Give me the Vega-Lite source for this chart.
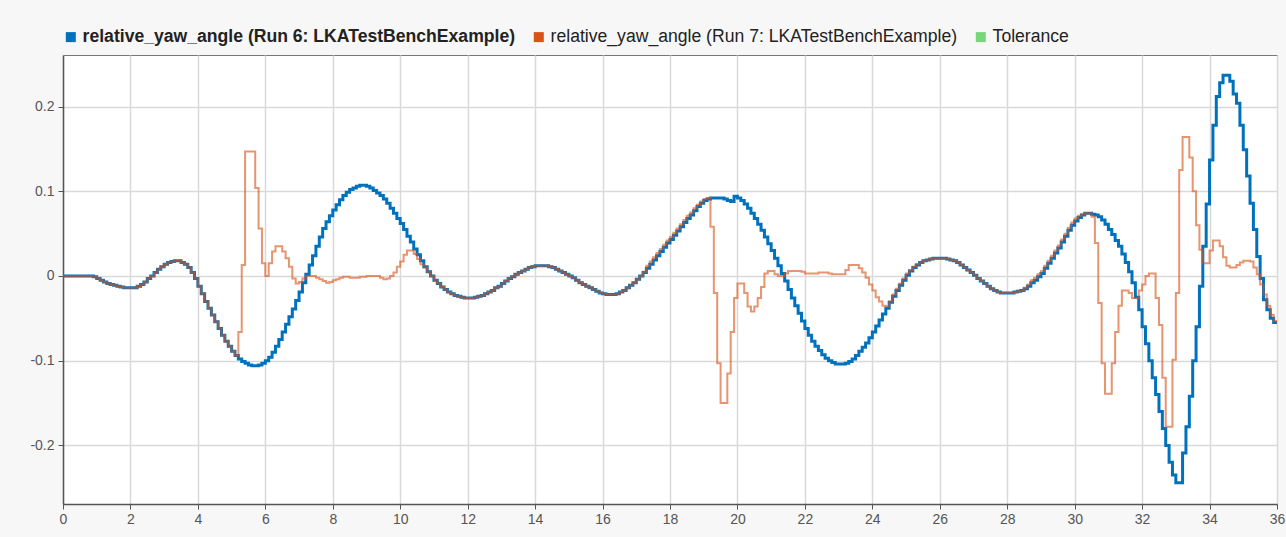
{
"$schema": "https://vega.github.io/schema/vega-lite/v6.json",
"width": 1214, "height": 449,
"autosize": {"type": "none"},
"padding": {"left": 63, "top": 55, "right": 9, "bottom": 33},
"background": "#f7f7f7",
"config": {
  "font": "Liberation Sans",
  "view": {"fill": "white", "stroke": "#777", "strokeWidth": 1},
  "axis": {"gridColor": "#d9d9d9", "gridWidth": 1.5, "domainColor": "#555", "domainWidth": 1.5, "tickColor": "#555", "tickSize": 5, "labelColor": "#555", "labelFontSize": 14, "labelFont": "Liberation Sans", "labelFlush": false, "title": null}
},
"data": {"values": [
{"t":0,"a":0,"b":0},{"t":0.1,"a":0,"b":0},{"t":0.2,"a":0,"b":0},{"t":0.3,"a":0,"b":0},{"t":0.4,"a":0,"b":0},{"t":0.5,"a":0,"b":0},{"t":0.6,"a":0,"b":0},{"t":0.7,"a":0,"b":0},{"t":0.8,"a":0,"b":0},
{"t":0.9,"a":-0.001,"b":-0.001},{"t":1.0,"a":-0.003,"b":-0.003},{"t":1.1,"a":-0.005,"b":-0.005},{"t":1.2,"a":-0.007,"b":-0.007},{"t":1.3,"a":-0.009,"b":-0.009},{"t":1.4,"a":-0.010,"b":-0.010},{"t":1.5,"a":-0.011,"b":-0.011},{"t":1.6,"a":-0.012,"b":-0.012},{"t":1.7,"a":-0.013,"b":-0.013},{"t":1.8,"a":-0.014,"b":-0.014},{"t":1.9,"a":-0.014,"b":-0.014},
{"t":2.0,"a":-0.014,"b":-0.014},{"t":2.1,"a":-0.014,"b":-0.014},{"t":2.2,"a":-0.012,"b":-0.012},{"t":2.3,"a":-0.010,"b":-0.010},{"t":2.4,"a":-0.007,"b":-0.007},{"t":2.5,"a":-0.003,"b":-0.003},{"t":2.6,"a":0,"b":0},{"t":2.7,"a":0.004,"b":0.004},{"t":2.8,"a":0.008,"b":0.008},{"t":2.9,"a":0.011,"b":0.011},
{"t":3.0,"a":0.014,"b":0.014},{"t":3.1,"a":0.016,"b":0.016},{"t":3.2,"a":0.017,"b":0.017},{"t":3.3,"a":0.018,"b":0.018},{"t":3.4,"a":0.018,"b":0.018},{"t":3.5,"a":0.016,"b":0.016},{"t":3.6,"a":0.014,"b":0.014},{"t":3.7,"a":0.010,"b":0.010},{"t":3.8,"a":0.004,"b":0.004},{"t":3.9,"a":-0.003,"b":-0.003},
{"t":4.0,"a":-0.012,"b":-0.012},{"t":4.1,"a":-0.021,"b":-0.021},{"t":4.2,"a":-0.030,"b":-0.030},{"t":4.3,"a":-0.038,"b":-0.038},{"t":4.4,"a":-0.046,"b":-0.046},{"t":4.5,"a":-0.054,"b":-0.054},{"t":4.6,"a":-0.062,"b":-0.062},{"t":4.7,"a":-0.070,"b":-0.070},{"t":4.8,"a":-0.077,"b":-0.077},{"t":4.9,"a":-0.083,"b":-0.083},
{"t":5.0,"a":-0.089,"b":-0.089},{"t":5.1,"a":-0.094,"b":-0.094},{"t":5.2,"a":-0.098,"b":-0.066},{"t":5.3,"a":-0.101,"b":0.013},{"t":5.4,"a":-0.103,"b":0.147},{"t":5.5,"a":-0.105,"b":0.147},{"t":5.6,"a":-0.106,"b":0.147},{"t":5.7,"a":-0.106,"b":0.104},{"t":5.8,"a":-0.105,"b":0.056},{"t":5.9,"a":-0.103,"b":0.015},
{"t":6.0,"a":-0.100,"b":0},{"t":6.1,"a":-0.096,"b":0.015},{"t":6.2,"a":-0.090,"b":0.029},{"t":6.3,"a":-0.083,"b":0.035},{"t":6.4,"a":-0.075,"b":0.035},{"t":6.5,"a":-0.066,"b":0.029},{"t":6.6,"a":-0.057,"b":0.021},{"t":6.7,"a":-0.048,"b":0.011},{"t":6.8,"a":-0.039,"b":-0.003},{"t":6.9,"a":-0.029,"b":-0.009},
{"t":7.0,"a":-0.019,"b":-0.007},{"t":7.1,"a":-0.008,"b":-0.003},{"t":7.2,"a":0.002,"b":0},{"t":7.3,"a":0.013,"b":0},{"t":7.4,"a":0.024,"b":0},{"t":7.5,"a":0.035,"b":-0.002},{"t":7.6,"a":0.046,"b":-0.004},{"t":7.7,"a":0.056,"b":-0.006},{"t":7.8,"a":0.064,"b":-0.008},{"t":7.9,"a":0.071,"b":-0.007},
{"t":8.0,"a":0.078,"b":-0.005},{"t":8.1,"a":0.084,"b":-0.004},{"t":8.2,"a":0.090,"b":-0.002},{"t":8.3,"a":0.095,"b":-0.001},{"t":8.4,"a":0.099,"b":-0.001},{"t":8.5,"a":0.102,"b":-0.002},{"t":8.6,"a":0.104,"b":-0.002},{"t":8.7,"a":0.106,"b":-0.002},{"t":8.8,"a":0.107,"b":-0.001},{"t":8.9,"a":0.107,"b":-0.001},
{"t":9.0,"a":0.106,"b":0},{"t":9.1,"a":0.104,"b":0},{"t":9.2,"a":0.101,"b":0},{"t":9.3,"a":0.098,"b":0},{"t":9.4,"a":0.095,"b":-0.002},{"t":9.5,"a":0.091,"b":-0.004},{"t":9.6,"a":0.086,"b":-0.003},{"t":9.7,"a":0.080,"b":0},{"t":9.8,"a":0.074,"b":0.004},{"t":9.9,"a":0.068,"b":0.011},
{"t":10.0,"a":0.062,"b":0.017},{"t":10.1,"a":0.055,"b":0.025},{"t":10.2,"a":0.047,"b":0.030},{"t":10.3,"a":0.040,"b":0.030},{"t":10.4,"a":0.032,"b":0.026},{"t":10.5,"a":0.025,"b":0.020},{"t":10.6,"a":0.018,"b":0.014},{"t":10.7,"a":0.011,"b":0.010},{"t":10.8,"a":0.005,"b":0.005},{"t":10.9,"a":0.000,"b":0.000},
{"t":11.0,"a":-0.005,"b":-0.005},{"t":11.1,"a":-0.009,"b":-0.009},{"t":11.2,"a":-0.013,"b":-0.013},{"t":11.3,"a":-0.016,"b":-0.016},{"t":11.4,"a":-0.019,"b":-0.019},{"t":11.5,"a":-0.021,"b":-0.021},{"t":11.6,"a":-0.023,"b":-0.023},{"t":11.7,"a":-0.024,"b":-0.024},{"t":11.8,"a":-0.025,"b":-0.025},{"t":11.9,"a":-0.026,"b":-0.026},
{"t":12.0,"a":-0.026,"b":-0.026},{"t":12.1,"a":-0.026,"b":-0.026},{"t":12.2,"a":-0.025,"b":-0.025},{"t":12.3,"a":-0.024,"b":-0.024},{"t":12.4,"a":-0.023,"b":-0.023},{"t":12.5,"a":-0.021,"b":-0.021},{"t":12.6,"a":-0.019,"b":-0.019},{"t":12.7,"a":-0.017,"b":-0.017},{"t":12.8,"a":-0.014,"b":-0.014},{"t":12.9,"a":-0.012,"b":-0.012},
{"t":13.0,"a":-0.009,"b":-0.009},{"t":13.1,"a":-0.006,"b":-0.006},{"t":13.2,"a":-0.003,"b":-0.003},{"t":13.3,"a":-0.001,"b":-0.001},{"t":13.4,"a":0.002,"b":0.002},{"t":13.5,"a":0.004,"b":0.004},{"t":13.6,"a":0.006,"b":0.006},{"t":13.7,"a":0.008,"b":0.008},{"t":13.8,"a":0.010,"b":0.010},{"t":13.9,"a":0.011,"b":0.011},
{"t":14.0,"a":0.012,"b":0.012},{"t":14.1,"a":0.012,"b":0.012},{"t":14.2,"a":0.012,"b":0.012},{"t":14.3,"a":0.012,"b":0.012},{"t":14.4,"a":0.011,"b":0.011},{"t":14.5,"a":0.010,"b":0.010},{"t":14.6,"a":0.008,"b":0.008},{"t":14.7,"a":0.006,"b":0.006},{"t":14.8,"a":0.004,"b":0.004},{"t":14.9,"a":0.002,"b":0.002},
{"t":15.0,"a":0.000,"b":0.000},{"t":15.1,"a":-0.002,"b":-0.002},{"t":15.2,"a":-0.005,"b":-0.005},{"t":15.3,"a":-0.008,"b":-0.008},{"t":15.4,"a":-0.010,"b":-0.010},{"t":15.5,"a":-0.012,"b":-0.012},{"t":15.6,"a":-0.014,"b":-0.014},{"t":15.7,"a":-0.016,"b":-0.016},{"t":15.8,"a":-0.018,"b":-0.018},{"t":15.9,"a":-0.020,"b":-0.020},
{"t":16.0,"a":-0.021,"b":-0.021},{"t":16.1,"a":-0.022,"b":-0.022},{"t":16.2,"a":-0.022,"b":-0.022},{"t":16.3,"a":-0.022,"b":-0.022},{"t":16.4,"a":-0.021,"b":-0.021},{"t":16.5,"a":-0.019,"b":-0.019},{"t":16.6,"a":-0.017,"b":-0.017},{"t":16.7,"a":-0.014,"b":-0.014},{"t":16.8,"a":-0.011,"b":-0.011},{"t":16.9,"a":-0.008,"b":-0.008},
{"t":17.0,"a":-0.004,"b":-0.004},{"t":17.1,"a":0.000,"b":0.000},{"t":17.2,"a":0.004,"b":0.005},{"t":17.3,"a":0.009,"b":0.012},{"t":17.4,"a":0.014,"b":0.017},{"t":17.5,"a":0.019,"b":0.022},{"t":17.6,"a":0.024,"b":0.027},{"t":17.7,"a":0.029,"b":0.032},{"t":17.8,"a":0.034,"b":0.037},{"t":17.9,"a":0.039,"b":0.042},
{"t":18.0,"a":0.043,"b":0.046},{"t":18.1,"a":0.048,"b":0.051},{"t":18.2,"a":0.053,"b":0.056},{"t":18.3,"a":0.058,"b":0.061},{"t":18.4,"a":0.063,"b":0.066},{"t":18.5,"a":0.068,"b":0.071},{"t":18.6,"a":0.072,"b":0.075},{"t":18.7,"a":0.077,"b":0.080},{"t":18.8,"a":0.082,"b":0.084},{"t":18.9,"a":0.086,"b":0.088},
{"t":19.0,"a":0.089,"b":0.091},{"t":19.1,"a":0.091,"b":0.092},{"t":19.2,"a":0.092,"b":0.058},{"t":19.3,"a":0.092,"b":-0.020},{"t":19.4,"a":0.092,"b":-0.103},{"t":19.5,"a":0.092,"b":-0.150},{"t":19.6,"a":0.091,"b":-0.150},{"t":19.7,"a":0.089,"b":-0.115},{"t":19.8,"a":0.088,"b":-0.066},{"t":19.9,"a":0.094,"b":-0.026},
{"t":20.0,"a":0.092,"b":-0.009},{"t":20.1,"a":0.089,"b":-0.009},{"t":20.2,"a":0.085,"b":-0.020},{"t":20.3,"a":0.080,"b":-0.036},{"t":20.4,"a":0.074,"b":-0.042},{"t":20.5,"a":0.068,"b":-0.036},{"t":20.6,"a":0.061,"b":-0.026},{"t":20.7,"a":0.054,"b":-0.013},{"t":20.8,"a":0.046,"b":0.003},{"t":20.9,"a":0.038,"b":0.006},
{"t":21.0,"a":0.030,"b":0.006},{"t":21.1,"a":0.021,"b":0.002},{"t":21.2,"a":0.012,"b":0},{"t":21.3,"a":0.003,"b":0},{"t":21.4,"a":-0.006,"b":0.003},{"t":21.5,"a":-0.016,"b":0.006},{"t":21.6,"a":-0.026,"b":0.006},{"t":21.7,"a":-0.035,"b":0.006},{"t":21.8,"a":-0.044,"b":0.006},{"t":21.9,"a":-0.053,"b":0.005},
{"t":22.0,"a":-0.062,"b":0.003},{"t":22.1,"a":-0.070,"b":0.003},{"t":22.2,"a":-0.077,"b":0.003},{"t":22.3,"a":-0.083,"b":0.003},{"t":22.4,"a":-0.088,"b":0.004},{"t":22.5,"a":-0.093,"b":0.004},{"t":22.6,"a":-0.097,"b":0.004},{"t":22.7,"a":-0.100,"b":0.003},{"t":22.8,"a":-0.102,"b":0.002},{"t":22.9,"a":-0.104,"b":0.002},
{"t":23.0,"a":-0.104,"b":0.002},{"t":23.1,"a":-0.104,"b":0.002},{"t":23.2,"a":-0.103,"b":0.007},{"t":23.3,"a":-0.101,"b":0.013},{"t":23.4,"a":-0.098,"b":0.013},{"t":23.5,"a":-0.094,"b":0.013},{"t":23.6,"a":-0.089,"b":0.009},{"t":23.7,"a":-0.084,"b":0.004},{"t":23.8,"a":-0.079,"b":-0.002},{"t":23.9,"a":-0.073,"b":-0.010},
{"t":24.0,"a":-0.066,"b":-0.017},{"t":24.1,"a":-0.059,"b":-0.025},{"t":24.2,"a":-0.052,"b":-0.030},{"t":24.3,"a":-0.045,"b":-0.035},{"t":24.4,"a":-0.038,"b":-0.036},{"t":24.5,"a":-0.031,"b":-0.030},{"t":24.6,"a":-0.024,"b":-0.022},{"t":24.7,"a":-0.017,"b":-0.015},{"t":24.8,"a":-0.011,"b":-0.009},{"t":24.9,"a":-0.005,"b":-0.003},
{"t":25.0,"a":0.001,"b":0.003},{"t":25.1,"a":0.006,"b":0.007},{"t":25.2,"a":0.010,"b":0.011},{"t":25.3,"a":0.013,"b":0.014},{"t":25.4,"a":0.016,"b":0.016},{"t":25.5,"a":0.018,"b":0.018},{"t":25.6,"a":0.019,"b":0.019},{"t":25.7,"a":0.020,"b":0.020},{"t":25.8,"a":0.021,"b":0.021},{"t":25.9,"a":0.021,"b":0.021},
{"t":26.0,"a":0.021,"b":0.021},{"t":26.1,"a":0.021,"b":0.021},{"t":26.2,"a":0.020,"b":0.020},{"t":26.3,"a":0.019,"b":0.019},{"t":26.4,"a":0.018,"b":0.018},{"t":26.5,"a":0.016,"b":0.016},{"t":26.6,"a":0.013,"b":0.013},{"t":26.7,"a":0.010,"b":0.010},{"t":26.8,"a":0.007,"b":0.007},{"t":26.9,"a":0.004,"b":0.004},
{"t":27.0,"a":0.001,"b":0.001},{"t":27.1,"a":-0.003,"b":-0.003},{"t":27.2,"a":-0.006,"b":-0.006},{"t":27.3,"a":-0.009,"b":-0.009},{"t":27.4,"a":-0.012,"b":-0.012},{"t":27.5,"a":-0.015,"b":-0.015},{"t":27.6,"a":-0.017,"b":-0.017},{"t":27.7,"a":-0.019,"b":-0.019},{"t":27.8,"a":-0.020,"b":-0.020},{"t":27.9,"a":-0.020,"b":-0.020},
{"t":28.0,"a":-0.020,"b":-0.020},{"t":28.1,"a":-0.020,"b":-0.020},{"t":28.2,"a":-0.019,"b":-0.019},{"t":28.3,"a":-0.018,"b":-0.018},{"t":28.4,"a":-0.017,"b":-0.017},{"t":28.5,"a":-0.015,"b":-0.014},{"t":28.6,"a":-0.012,"b":-0.010},{"t":28.7,"a":-0.008,"b":-0.005},{"t":28.8,"a":-0.005,"b":-0.002},{"t":28.9,"a":-0.001,"b":0.002},
{"t":29.0,"a":0.003,"b":0.006},{"t":29.1,"a":0.009,"b":0.012},{"t":29.2,"a":0.015,"b":0.018},{"t":29.3,"a":0.021,"b":0.024},{"t":29.4,"a":0.027,"b":0.030},{"t":29.5,"a":0.033,"b":0.036},{"t":29.6,"a":0.040,"b":0.043},{"t":29.7,"a":0.047,"b":0.050},{"t":29.8,"a":0.054,"b":0.057},{"t":29.9,"a":0.060,"b":0.063},
{"t":30.0,"a":0.065,"b":0.068},{"t":30.1,"a":0.069,"b":0.071},{"t":30.2,"a":0.072,"b":0.073},{"t":30.3,"a":0.074,"b":0.074},{"t":30.4,"a":0.074,"b":0.074},{"t":30.5,"a":0.073,"b":0.070},{"t":30.6,"a":0.072,"b":0.039},{"t":30.7,"a":0.070,"b":-0.032},{"t":30.8,"a":0.066,"b":-0.103},{"t":30.9,"a":0.061,"b":-0.139},
{"t":31.0,"a":0.055,"b":-0.139},{"t":31.1,"a":0.049,"b":-0.103},{"t":31.2,"a":0.042,"b":-0.066},{"t":31.3,"a":0.035,"b":-0.035},{"t":31.4,"a":0.026,"b":-0.017},{"t":31.5,"a":0.016,"b":-0.017},{"t":31.6,"a":0.005,"b":-0.020},{"t":31.7,"a":-0.008,"b":-0.026},{"t":31.8,"a":-0.025,"b":-0.026},{"t":31.9,"a":-0.040,"b":-0.017},
{"t":32.0,"a":-0.060,"b":-0.010},{"t":32.1,"a":-0.080,"b":0.000},{"t":32.2,"a":-0.100,"b":0.003},{"t":32.3,"a":-0.120,"b":0.003},{"t":32.4,"a":-0.140,"b":-0.026},{"t":32.5,"a":-0.160,"b":-0.058},{"t":32.6,"a":-0.180,"b":-0.120},{"t":32.7,"a":-0.200,"b":-0.178},{"t":32.8,"a":-0.220,"b":-0.178},{"t":32.9,"a":-0.235,"b":-0.099},
{"t":33.0,"a":-0.244,"b":-0.020},{"t":33.1,"a":-0.244,"b":0.125},{"t":33.2,"a":-0.209,"b":0.164},{"t":33.3,"a":-0.178,"b":0.164},{"t":33.4,"a":-0.142,"b":0.140},{"t":33.5,"a":-0.100,"b":0.100},{"t":33.6,"a":-0.060,"b":0.060},{"t":33.7,"a":-0.012,"b":0.031},{"t":33.8,"a":0.035,"b":0.015},{"t":33.9,"a":0.085,"b":0.015},
{"t":34.0,"a":0.137,"b":0.030},{"t":34.1,"a":0.178,"b":0.042},{"t":34.2,"a":0.212,"b":0.042},{"t":34.3,"a":0.228,"b":0.035},{"t":34.4,"a":0.237,"b":0.022},{"t":34.5,"a":0.237,"b":0.012},{"t":34.6,"a":0.230,"b":0.010},{"t":34.7,"a":0.215,"b":0.010},{"t":34.8,"a":0.204,"b":0.013},{"t":34.9,"a":0.178,"b":0.016},
{"t":35.0,"a":0.149,"b":0.018},{"t":35.1,"a":0.118,"b":0.018},{"t":35.2,"a":0.086,"b":0.017},{"t":35.3,"a":0.055,"b":0.010},{"t":35.4,"a":0.023,"b":0.002},{"t":35.5,"a":-0.003,"b":-0.010},{"t":35.6,"a":-0.028,"b":-0.022},{"t":35.7,"a":-0.040,"b":-0.035},{"t":35.8,"a":-0.050,"b":-0.046},{"t":35.9,"a":-0.055,"b":-0.053},
{"t":36.0,"a":-0.056,"b":-0.056}
]},
"encoding": {
  "x": {"field": "t", "type": "quantitative", "scale": {"domain": [0, 36], "nice": false, "zero": false},
        "axis": {"values": [0,2,4,6,8,10,12,14,16,18,20,22,24,26,28,30,32,34,36], "labelPadding": 3}}
},
"layer": [
  {
    "mark": {"type": "line", "interpolate": "step-after", "strokeWidth": 3, "clip": true},
    "encoding": {
      "y": {"field": "a", "type": "quantitative", "scale": {"domain": [-0.2692, 0.2609], "nice": false, "zero": false},
            "axis": {"values": [-0.2, -0.1, 0, 0.1, 0.2], "labelExpr": "'' + datum.value", "labelPadding": 4}},
      "color": {"datum": "relative_yaw_angle (Run 6: LKATestBenchExample)", "type": "nominal",
        "scale": {"domain": ["relative_yaw_angle (Run 6: LKATestBenchExample)", "relative_yaw_angle (Run 7: LKATestBenchExample)", "Tolerance"],
                  "range": ["#0072BD", "#D95319", "#77D67A"]},
        "legend": {"title": null, "orient": "none", "legendX": -1, "legendY": -27, "direction": "horizontal",
          "symbolType": "square", "symbolSize": 100, "symbolOpacity": 1, "symbolStrokeWidth": 0,
          "labelFontSize": 17.6, "labelFont": "Liberation Sans", "labelColor": "#222", "labelOffset": 3, "columnPadding": 14, "labelLimit": 600,
          "encode": {
            "symbols": {"update": {"fill": {"scale": "color", "field": "value"}, "stroke": {"value": "transparent"}, "opacity": {"value": 1}}},
            "labels": {"update": {"fontWeight": {"signal": "datum.value === 'relative_yaw_angle (Run 6: LKATestBenchExample)' ? 'bold' : 'normal'"}}}
          }}}
    }
  },
  {
    "mark": {"type": "line", "interpolate": "step-after", "strokeWidth": 2, "opacity": 0.62, "clip": true},
    "encoding": {
      "y": {"field": "b", "type": "quantitative"},
      "color": {"datum": "relative_yaw_angle (Run 7: LKATestBenchExample)", "type": "nominal"}
    }
  }
]
}
